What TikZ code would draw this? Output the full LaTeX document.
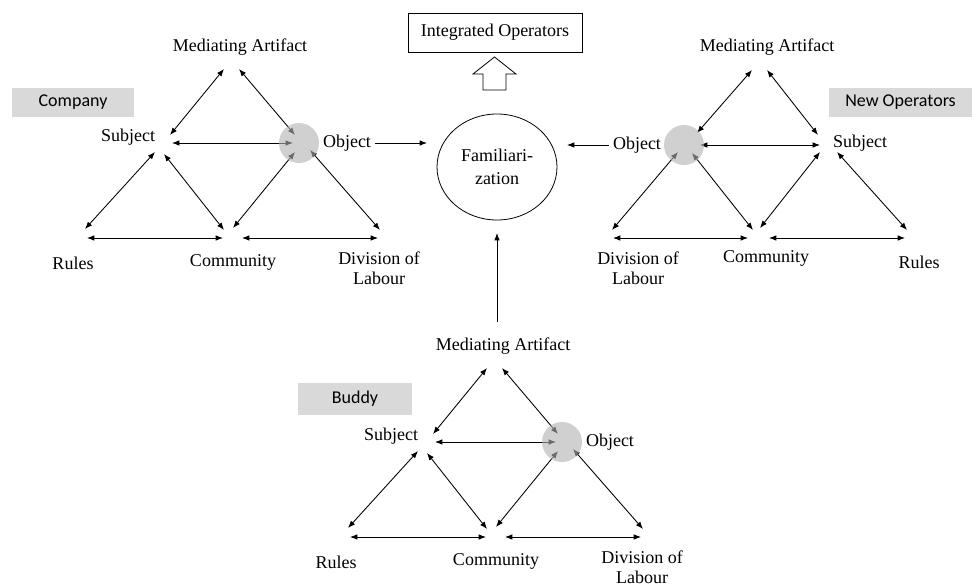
\documentclass[tikz,border=0pt]{standalone}
\usepackage{fontspec}
\setmainfont{Liberation Serif}
\newfontfamily\boxfont{Carlito}
\usetikzlibrary{arrows.meta,shapes.geometric}
\newcommand\ActTri[1]{%
 \node[lbl] (#1ma) at (240,47) {Mediating Artifact};
 \node[lbl] (#1sub) at (128,137) {Subject};
 \node[lbl] (#1obj) at (347,143) {Object};
 \node[lbl] (#1rul) at (73,263) {Rules};
 \node[lbl] (#1com) at (233,262) {Community};
 \node[lbl] (#1div) at (379,268) {Division of\\Labour};
 \coordinate (#1aL) at (224,69); \coordinate (#1aR) at (239,69);
 \coordinate (#1sT) at (170,135); \coordinate (#1sH) at (172,143);
 \coordinate (#1sBL) at (155,152); \coordinate (#1sBR) at (164,154);
 \coordinate (#1oT) at (295,135); \coordinate (#1oH) at (293,143);
 \coordinate (#1oBL) at (295,152); \coordinate (#1oBR) at (310,150);
 \coordinate (#1rT) at (85,229); \coordinate (#1rH) at (87,238);
 \coordinate (#1cL) at (224,230); \coordinate (#1cR) at (233,228);
 \coordinate (#1cHL) at (223,238); \coordinate (#1cHR) at (242,238);
 \coordinate (#1dT) at (380,230); \coordinate (#1dH) at (378,238);
 \draw[dbl] (#1aL) -- (#1sT);
 \draw[dbl] (#1aR) -- (#1oT);
 \draw[dbl] (#1sH) -- (#1oH);
 \draw[dbl] (#1rT) -- (#1sBL);
 \draw[dbl] (#1sBR) -- (#1cL);
 \draw[dbl] (#1oBL) -- (#1cR);
 \draw[dbl] (#1oBR) -- (#1dT);
 \draw[dbl] (#1rH) -- (#1cHL);
 \draw[dbl] (#1cHR) -- (#1dH);
 \node[objc] (#1circ) at (299,143) {};
}
\begin{document}
\begin{tikzpicture}[x=0.75pt,y=-0.75pt,
 lbl/.style={font=\fontsize{13.5}{15}\selectfont, inner sep=0pt, align=center},
 tag/.style={fill=black!15, font=\boxfont\fontsize{13.5}{15}\selectfont, inner sep=0pt},
 dbl/.style={{Latex[length=5.5pt,width=4.2pt]}-{Latex[length=5.5pt,width=4.2pt]}, line width=0.65pt},
 sgl/.style={-{Latex[length=5.5pt,width=4.2pt]}, line width=0.65pt},
 objc/.style={circle, fill=black!30, opacity=0.6, minimum size=30pt, inner sep=0pt},
 ]
\fill[white] (0,0) rectangle (972,586);
\useasboundingbox (0,0) rectangle (972,586);

% Company triangle
\ActTri{L}
\node[tag, minimum width=91.5pt, minimum height=21.75pt] (company) at (73,102.5) {Company};

% Buddy triangle
\begin{scope}[shift={(263,299)}]
\ActTri{B}
\end{scope}
\node[tag, minimum width=85.5pt, minimum height=24pt] (buddy) at (355,399) {Buddy};

% New Operators triangle
\node[lbl] (Rma) at (767,47) {Mediating Artifact};
\node[lbl] (Rsub) at (860,143) {Subject};
\node[lbl] (Robj) at (637,145) {Object};
\node[lbl] (Rrul) at (919,262) {Rules};
\node[lbl] (Rcom) at (766,258) {Community};
\node[lbl] (Rdiv) at (638,268) {Division of\\Labour};
\coordinate (RaL) at (752,70); \coordinate (RaR) at (767,70);
\coordinate (RoT) at (697,133); \coordinate (RoH) at (700,145);
\coordinate (RsH) at (820,145); \coordinate (RsT) at (818,135);
\coordinate (RsBL) at (820,152); \coordinate (RsBR) at (837,152);
\coordinate (RrT) at (907,230); \coordinate (RrH) at (905,238);
\coordinate (RcL) at (753,230); \coordinate (RcR) at (760,228);
\coordinate (RcHL) at (748,238); \coordinate (RcHR) at (769,238);
\coordinate (RdT) at (612,230); \coordinate (RdH) at (613,238);
\coordinate (RoBL) at (678,152); \coordinate (RoBR) at (692,153);
\draw[dbl] (RaL) -- (RoT);
\draw[dbl] (RaR) -- (RsT);
\draw[dbl] (RoH) -- (RsH);
\draw[dbl] (RdT) -- (RoBL);
\draw[dbl] (RoBR) -- (RcL);
\draw[dbl] (RcR) -- (RsBL);
\draw[dbl] (RsBR) -- (RrT);
\draw[dbl] (RdH) -- (RcHL);
\draw[dbl] (RcHR) -- (RrH);
\node[objc] (Rcirc) at (684,145) {};
\node[tag, minimum width=107.25pt, minimum height=21.75pt] (newop) at (900.5,102.5) {New Operators};

% Centre
\node[draw, ellipse, line width=0.6pt, minimum width=90pt, minimum height=79.5pt, inner sep=0pt,
      font=\fontsize{13.5}{17}\selectfont, align=center] (fam) at (497,167) {Familiari-\\zation};
\node[draw, line width=0.6pt, minimum width=130.5pt, minimum height=29.25pt, inner sep=0pt,
      font=\fontsize{13.5}{15}\selectfont] (integ) at (495,32.5) {Integrated Operators};
\draw[line width=0.6pt, fill=white] (483,90) -- (483,74) -- (473,74) -- (494.5,57) -- (516,74) -- (506,74) -- (506,90) -- cycle;

\coordinate (fL) at (427,143);
\coordinate (fR) at (567,145);
\coordinate (fB0) at (497,322);
\coordinate (fB) at (497,233);
\draw[sgl] ([xshift=3pt]Lobj.east) -- (fL);
\draw[sgl] ([xshift=-3pt]Robj.west) -- (fR);
\draw[sgl] (fB0) -- (fB);
\end{tikzpicture}
\end{document}
